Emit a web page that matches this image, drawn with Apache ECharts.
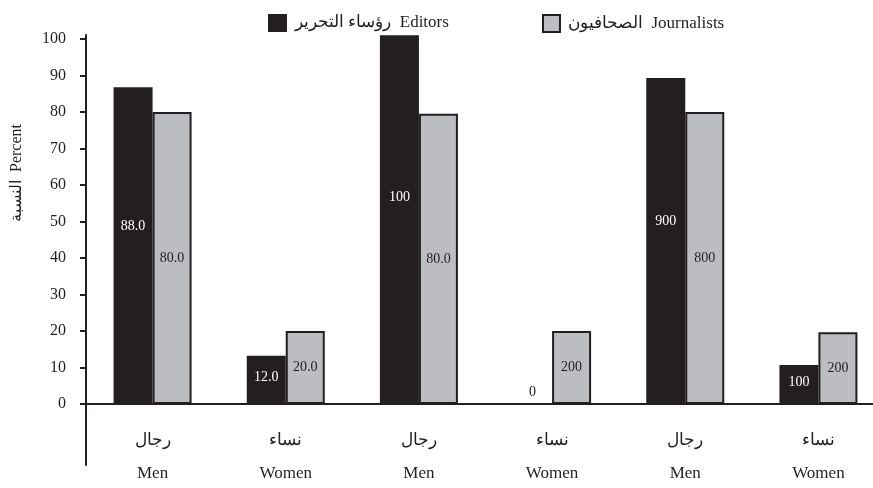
<!DOCTYPE html>
<html>
<head>
<meta charset="utf-8">
<script src="https://cdn.jsdelivr.net/npm/echarts@6/dist/echarts.min.js"></script>
<style>
html, body { margin: 0; padding: 0; background: #fff; }
#chart { width: 873px; height: 488px; }
</style>
</head>
<body>
<div id="chart"></div>
<script>
var categories = ['رجال\nMen', 'نساء\nWomen', 'رجال\nMen', 'نساء\nWomen', 'رجال\nMen', 'نساء\nWomen'];
var editorsName = 'رؤساء التحرير  Editors';
var journalistsName = 'الصحافيون  Journalists';
// bar heights as drawn
var editorValues = [86.8, 13.2, 101, 0, 89.3, 10.7];
var journalistValues = [80, 20, 79.5, 20, 80, 19.7];
// printed labels (as they appear in the figure)
var editorLabels = ['88.0', '12.0', '100', '0', '900', '100'];
var journalistLabels = ['80.0', '20.0', '80.0', '200', '800', '200'];
var yTicks = [0, 10, 20, 30, 40, 50, 60, 70, 80, 90, 100];

var dark = '#231f20';
var grey = '#bcbdc0';
var font = "'Liberation Serif', 'DejaVu Serif', serif";

var myChart = echarts.init(document.getElementById('chart'));

var editorData = editorValues.map(function(v) {
	if (v === 0) {
		return { value: v, label: { position: 'top', distance: 12, color: dark } };
	}
	return v;
});

var option = {
	animation: false,
	textStyle: { fontFamily: font },
	legend: [{
		data: [{ name: editorsName, itemStyle: { color: dark, borderWidth: 0 } }],
		left: 263,
		top: 9,
		icon: 'rect',
		itemWidth: 19,
		itemHeight: 18,
		selectedMode: false,
		textStyle: { fontFamily: font, fontSize: 17, color: dark, padding: [0, 0, 0, 3] }
	}, {
		data: [{ name: journalistsName, itemStyle: { color: grey, borderColor: dark, borderWidth: 2 } }],
		left: 537,
		top: 9,
		icon: 'rect',
		itemWidth: 17,
		itemHeight: 17,
		selectedMode: false,
		textStyle: { fontFamily: font, fontSize: 17, color: dark, padding: [0, 0, 0, 3] }
	}],
	grid: {
		left: 86,
		width: 799,
		top: 35,
		bottom: 23,
		outerBoundsMode: 'none'
	},
	xAxis: {
		type: 'category',
		data: categories,
		offset: -61,
		axisLine: { onZero: false, lineStyle: { color: dark, width: 2 } },
		axisTick: { show: false },
		axisLabel: {
			interval: 0,
			margin: 20,
			fontFamily: font,
			fontSize: 17,
			lineHeight: 33,
			color: dark
		}
	},
	yAxis: {
		type: 'value',
		min: -16.7,
		max: 101.1,
		splitLine: { show: false },
		axisLine: { show: true, lineStyle: { color: dark, width: 2 } },
		axisTick: { show: true, length: 6, customValues: yTicks, lineStyle: { color: dark, width: 2 } },
		axisLabel: { customValues: yTicks, margin: 20, fontFamily: font, fontSize: 16, color: dark }
	},
	graphic: [{
		type: 'text',
		x: 9,
		y: 222,
		rotation: Math.PI / 2,
		style: {
			text: 'النسبة  Percent',
			font: '16px ' + font,
			fill: dark
		}
	}],
	series: [{
		name: editorsName,
		type: 'bar',
		barWidth: 39,
		barGap: 0,
		data: editorData,
		itemStyle: { color: dark },
		emphasis: { disabled: true },
		label: {
			show: true,
			position: ['50%', '44%'],
			align: 'center',
			verticalAlign: 'middle',
			color: '#fff',
			fontFamily: font,
			fontSize: 14,
			formatter: function(p) { return editorLabels[p.dataIndex]; }
		}
	}, {
		name: journalistsName,
		type: 'bar',
		barWidth: 39,
		data: journalistValues,
		itemStyle: { color: grey, borderColor: dark, borderWidth: 2 },
		emphasis: { disabled: true },
		label: {
			show: true,
			position: 'inside',
			color: dark,
			fontFamily: font,
			fontSize: 14,
			formatter: function(p) { return journalistLabels[p.dataIndex]; }
		}
	}]
};

myChart.setOption(option);
</script>
</body>
</html>
